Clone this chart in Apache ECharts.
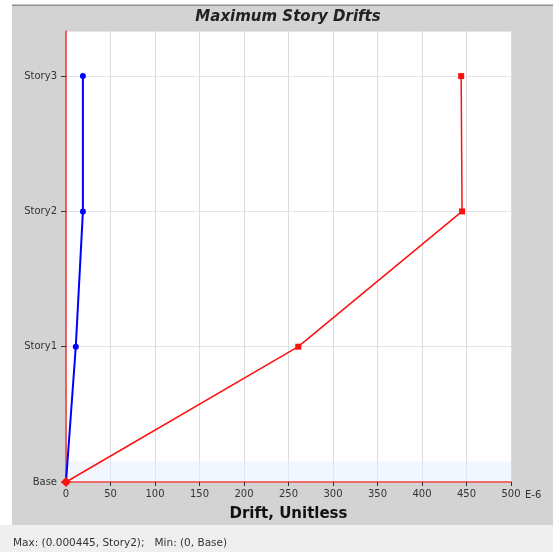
<!DOCTYPE html>
<html>
<head>
<meta charset="utf-8">
<script src="https://cdn.jsdelivr.net/npm/echarts@6/dist/echarts.min.js"></script>
<style>
    html, body { margin: 0; padding: 0; background: #fff; }
    #chart { width: 553px; height: 552px; }
</style>
</head>
<body>
<div id="chart"></div>
<script>
"use strict";
// story names on the vertical axis (Base = 0, Story1 = 1 ...)
var storyLabels = ["Base", "Story1", "Story2", "Story3"];
var storyLevels = [0, 1, 2, 3];
// drifts in E-6
var blueDrifts = [0, 11, 19, 19];
var redDrifts = [0, 261, 445, 444];
var xTicks = [0, 50, 100, 150, 200, 250, 300, 350, 400, 450, 500];

var font = "DejaVu Sans";
var chart = echarts.init(document.getElementById("chart"));

function pairs(xs) {
    return xs.map(function (x, i) {
        return [x, storyLevels[i]];
    });
}

var redData = pairs(redDrifts).map(function (p, i) {
    if (i === 0) {
        return {value: p, symbol: "diamond", symbolSize: 10};
    }
    return p;
});

var options = {
    animation: false,
    backgroundColor: "#ffffff",
    graphic: [
        {type: "rect", z: -10, shape: {x: 12, y: 6, width: 541, height: 519}, style: {fill: "#d3d3d3"}},
        {type: "rect", z: -10, shape: {x: 12, y: 4.5, width: 541, height: 1.5}, style: {fill: "#8f8f8f"}},
        {type: "rect", z: -10, shape: {x: 0, y: 525, width: 553, height: 27}, style: {fill: "#efefef"}},
        {type: "text", style: {
            x: 288, y: 17, text: "Maximum Story Drifts", font: "italic bold 15px " + font,
            fill: "#222", align: "center", verticalAlign: "middle"
        }},
        {type: "text", style: {
            x: 525, y: 495, text: "E-6", font: "10px " + font, fill: "#333", verticalAlign: "middle"
        }},
        {type: "text", style: {
            x: 13, y: 543, text: "Max: (0.000445, Story2);   Min: (0, Base)", font: "10.5px " + font,
            fill: "#333", verticalAlign: "middle"
        }}
    ],
    grid: {
        left: 66,
        right: 42,
        top: 31,
        bottom: 70,
        show: true,
        backgroundColor: "#ffffff",
        borderWidth: 0
    },
    xAxis: {
        type: "value",
        min: 0,
        max: 500,
        interval: 50,
        name: "Drift, Unitless",
        nameLocation: "middle",
        nameGap: 25,
        nameTextStyle: {fontFamily: font, fontWeight: "bold", fontSize: 15, color: "#111"},
        axisLine: {show: true, lineStyle: {color: "#f06a6a", width: 2}},
        axisTick: {show: true, length: 4, lineStyle: {color: "#333"}},
        axisLabel: {
            fontFamily: font, fontSize: 10, color: "#333", margin: 7,
            formatter: function (v) {
                return xTicks.indexOf(v) >= 0 ? String(v) : "";
            }
        },
        splitLine: {show: true, lineStyle: {color: "#dcdcdc", width: 1}}
    },
    yAxis: {
        type: "value",
        min: 0,
        max: 10 / 3,
        interval: 1,
        axisLine: {show: true, lineStyle: {color: "#ee3b3b", width: 1.5}},
        axisTick: {show: true, length: 5, lineStyle: {color: "#333"}},
        axisLabel: {
            fontFamily: font, fontSize: 10, color: "#333", margin: 9, showMaxLabel: false,
            formatter: function (v) {
                return Number.isInteger(v) ? storyLabels[v] : "";
            }
        },
        splitLine: {show: true, lineStyle: {color: "#e4e4e4", width: 1}}
    },
    series: [
        {
            name: "blue",
            type: "line",
            data: pairs(blueDrifts),
            color: "#0000ff",
            lineStyle: {width: 2},
            symbol: "circle",
            symbolSize: 6,
            z: 2,
            markArea: {
                silent: true,
                z: 0,
                itemStyle: {color: "rgba(228,238,255,0.5)"},
                data: [[{yAxis: 0}, {yAxis: 0.15}]]
            }
        },
        {
            name: "red",
            type: "line",
            data: redData,
            color: "#ff1010",
            lineStyle: {width: 1.5},
            symbol: "rect",
            symbolSize: 6,
            z: 3
        }
    ]
};

chart.setOption(options);
</script>
</body>
</html>
